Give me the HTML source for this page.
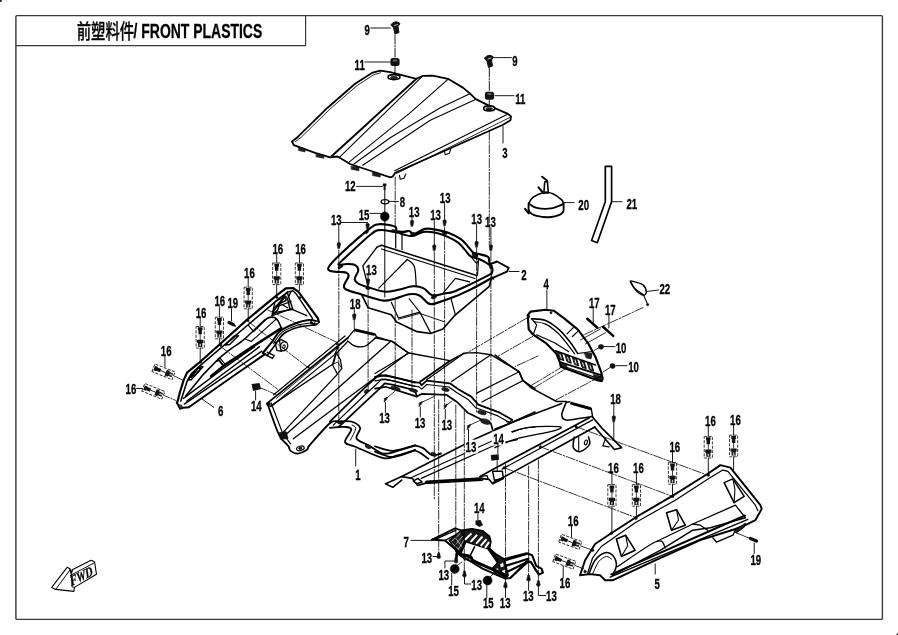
<!DOCTYPE html>
<html><head><meta charset="utf-8"><title>前塑料件/ FRONT PLASTICS</title>
<style>
html,body{margin:0;padding:0;background:#fff;}
body{width:898px;height:635px;overflow:hidden;}
svg{display:block;will-change:transform;}
svg text{stroke:#000;stroke-width:0.3px;font-family:"Liberation Sans","Noto Sans CJK SC",sans-serif;font-weight:bold;fill:#000;}
svg path{stroke-linejoin:round;stroke-linecap:round;}
</style></head><body>
<svg width="898" height="635" viewBox="0 0 898 635">
<rect x="15.9" y="15.6" width="866.5" height="603.8" rx="1" fill="none" stroke="#3a3a3a" stroke-width="1.4"/>
<path d="M16 45.6 H305.6 V15.7" fill="none" stroke="#3a3a3a" stroke-width="1.2"/>
<path d="M0 0 H2.2 Q2 2 0 2.2 Z" fill="#222"/><path d="M898 635 H896.6 V633.6 H898 Z" fill="#333"/>
<text x="76.7" y="38.6" font-size="20.5" textLength="57.5" lengthAdjust="spacingAndGlyphs" style="font-weight:500">前塑料件</text>
<text x="133.6" y="38.4" font-size="20.5" textLength="128.6" lengthAdjust="spacingAndGlyphs">/ FRONT PLASTICS</text>
<path d="M292.0 141.5 L297.5 137.2 L327.6 107.7 L355.1 83.8 L372.7 72.6 L380.2 70.6 L390.2 72.1 L416.5 78.8 L422.8 75.8 L432.8 75.6 L447.9 78.8 L462.9 87.6 L470.4 93.9 L475.4 98.9 L487.9 105.1 L508.0 113.9 L511.0 116.4 L510.5 120.2 L503.0 124.7 L450.4 148.2 L395.2 172.8 L392.7 176.6 L390.2 177.3 L372.7 171.5 L350.1 164.0 L343.9 160.3 L337.6 156.5 L330.1 157.3 L315.1 152.8 L293.8 145.2 Z" fill="none" stroke="#000" stroke-width="1.80"/>
<path d="M295.5 141.5 L301.3 137.2 L330.1 108.9 L357.1 85.6 L373.9 74.6 L380.7 72.8" fill="none" stroke="#000" stroke-width="0.84"/>
<path d="M416.5 78.8 L390.2 102.6 L360.2 130.2 L331.3 156.5" fill="none" stroke="#000" stroke-width="1.92"/>
<path d="M422.3 76.3 L338.9 157.8" fill="none" stroke="#000" stroke-width="1.08"/>
<path d="M447.9 79.3 L410.3 112.7 L348.1 162.8" fill="none" stroke="#000" stroke-width="1.08"/>
<path d="M470.4 93.4 L440.3 107.7 L390.2 137.7 L353.9 164.0" fill="none" stroke="#000" stroke-width="1.08"/>
<path d="M475.4 99.6 L430.3 120.2 L362.7 165.3" fill="none" stroke="#000" stroke-width="1.08"/>
<path d="M507.5 114.2 L394.7 170.8" fill="none" stroke="#000" stroke-width="1.08"/>
<path d="M510.5 117.2 L396.5 173.5" fill="none" stroke="#000" stroke-width="0.84"/>
<path d="M298.8 147.2 L305.0 148.7 L305.0 152.0 L298.8 150.5 Z" fill="#222" stroke="#000" stroke-width="0.60"/>
<path d="M316.3 153.5 L323.8 155.0 L323.8 158.3 L316.3 156.8 Z" fill="#222" stroke="#000" stroke-width="0.60"/>
<path d="M351.4 166.0 L358.9 167.5 L358.9 170.8 L351.4 169.3 Z" fill="#222" stroke="#000" stroke-width="0.60"/>
<path d="M372.7 172.3 L380.2 173.8 L380.2 177.1 L372.7 175.6 Z" fill="#222" stroke="#000" stroke-width="0.60"/>
<path d="M399.5 175.3 L400.2 179.3 L404.0 178.3 L405.8 174.0" fill="none" stroke="#000" stroke-width="1.08"/>
<path d="M444.1 150.2 L445.3 154.8 L449.4 153.3 L450.9 148.2" fill="none" stroke="#000" stroke-width="1.08"/>
<ellipse cx="394.0" cy="77.1" rx="6.0" ry="2.5" fill="#fff" stroke="#000" stroke-width="1.6"/>
<ellipse cx="394.0" cy="77.6" rx="3.5" ry="1.3" fill="#222" stroke="#000" stroke-width="0.5"/>
<ellipse cx="489.2" cy="108.4" rx="5.5" ry="2.5" fill="#fff" stroke="#000" stroke-width="1.6"/>
<ellipse cx="489.2" cy="108.9" rx="3.3" ry="1.3" fill="#222" stroke="#000" stroke-width="0.5"/>
<path d="M177.2 403.0 L180.0 392.0 L183.5 380.6 L187.0 372.6 L198.0 363.7 L219.0 345.0 L246.6 320.1 L276.9 295.1 L285.8 288.3 L292.9 288.0 L298.3 291.6 L317.9 318.3 L318.8 321.9 L316.0 324.5 L311.0 323.0" fill="none" stroke="#000" stroke-width="2.17"/>
<path d="M180.8 401.0 L187.0 381.5 L191.5 373.5 L200.4 365.4 L248.4 324.5 L279.0 298.7 L287.6 292.1" fill="none" stroke="#000" stroke-width="1.59"/>
<path d="M287.6 292.1 L292.9 290.7 L296.5 294.3 L312.5 318.3 L310.8 321.9" fill="none" stroke="#000" stroke-width="1.45"/>
<path d="M286.7 292.5 L272.4 313.0 L292.9 309.4 L287.6 293.4" fill="none" stroke="#000" stroke-width="1.45"/>
<path d="M272.4 313.0 L275.1 301.4 L284.0 296.9" fill="none" stroke="#000" stroke-width="1.16"/>
<path d="M276.9 306.7 L291.2 301.4" fill="none" stroke="#000" stroke-width="1.16"/>
<path d="M218.1 359.3 C219.9 357.8 224.3 353.8 228.8 350.4 C233.3 347.0 239.2 343.5 244.8 338.8 C250.5 334.0 258.5 325.4 262.7 321.9 C266.8 318.3 267.5 317.9 269.8 317.4 C272.1 316.9 274.6 317.1 276.5 318.8 C278.5 320.6 280.6 326.3 281.4 327.8" fill="none" stroke="#000" stroke-width="1.59"/>
<path d="M218.1 359.3 L223.5 365.9" fill="none" stroke="#000" stroke-width="1.45"/>
<path d="M220.2 358.4 L225.6 364.8" fill="none" stroke="#000" stroke-width="1.16"/>
<path d="M281.4 328.1 L253.7 345.9 L223.5 365.9 L211.0 376.2" fill="none" stroke="#000" stroke-width="2.46"/>
<path d="M248.4 325.4 L253.7 331.7 L267.1 318.3" fill="none" stroke="#000" stroke-width="1.16"/>
<path d="M244.8 338.8 L251.1 341.5 L266.2 328.1 L276.5 318.8" fill="none" stroke="#000" stroke-width="1.16"/>
<path d="M185.7 396.0 L203.6 374.1 L218.1 359.3" fill="none" stroke="#000" stroke-width="1.59"/>
<path d="M186.8 401.0 L259.5 346.7" fill="none" stroke="#000" stroke-width="1.45"/>
<path d="M286.0 296.5 L274.2 307.7 L272.0 315.6 L277.6 310.0 L279.8 303.3 L286.0 300.5 Z" fill="none" stroke="#000" stroke-width="1.45"/>
<path d="M279.8 303.3 L287.6 307.7" fill="none" stroke="#000" stroke-width="1.30"/>
<path d="M272.0 315.6 L291.0 308.8 L306.7 315.6" fill="none" stroke="#000" stroke-width="1.45"/>
<path d="M291.0 291.5 L287.6 298.8 L289.9 308.8" fill="none" stroke="#000" stroke-width="1.45"/>
<path d="M188.5 379.7 L195.7 369.7 L201.9 366.3 L199.1 370.8 L191.3 379.7 Z" fill="none" stroke="#000" stroke-width="1.45"/>
<path d="M191.3 377.5 L197.4 369.7" fill="none" stroke="#000" stroke-width="1.30"/>
<path d="M216.4 361.3 L219.2 360.2 L223.7 366.3 L221.5 367.4" fill="none" stroke="#000" stroke-width="1.59"/>
<path d="M188.8 407.3 L236.9 373.5 L265.4 353.9" fill="none" stroke="#000" stroke-width="1.89"/>
<path d="M184.3 404.1 L261.8 351.2" fill="none" stroke="#000" stroke-width="1.45"/>
<path d="M183.5 398.4 L222.7 369.0 L254.7 346.7" fill="none" stroke="#000" stroke-width="1.45"/>
<path d="M176.7 402.3 L179.9 408.6 L183.1 407.7 L188.8 407.3" fill="none" stroke="#000" stroke-width="1.89"/>
<path d="M178.5 405.2 L179.9 409.1 L182.6 408.6 L181.7 405.5 Z" fill="#333" stroke="#000" stroke-width="0.87"/>
<path d="M318.8 321.9 C317.1 321.6 313.0 319.8 309.0 320.1 C305.0 320.4 299.5 321.9 294.7 323.7 C290.0 325.4 284.3 327.7 280.5 330.8 C276.6 333.9 274.5 338.6 271.6 342.4 C268.6 346.1 264.1 351.3 262.7 353.1" fill="none" stroke="#000" stroke-width="2.03"/>
<path d="M315.2 324.9 C312.4 325.3 303.5 325.8 298.3 327.2 C293.1 328.6 287.9 330.5 284.0 333.5 C280.2 336.4 277.9 341.3 275.1 345.0 C272.3 348.7 268.4 353.9 267.1 355.7" fill="none" stroke="#000" stroke-width="1.59"/>
<path d="M312.5 322.4 C309.9 322.9 301.6 323.8 296.5 325.4 C291.5 327.1 286.1 329.1 282.2 332.2 C278.4 335.3 274.8 341.9 273.3 343.8" fill="none" stroke="#000" stroke-width="1.01"/>
<path d="M262.7 353.1 L272.4 358.4 L274.2 355.7 L267.1 352.2" fill="none" stroke="#000" stroke-width="1.45"/>
<path d="M275.1 342.4 L276.9 350.4 L281.4 351.3 L279.6 341.5" fill="none" stroke="#000" stroke-width="1.30"/>
<ellipse cx="284.0" cy="346.3" rx="3.6" ry="4.6" fill="#fff" stroke="#000" stroke-width="1.3" transform="rotate(20 284.0 346.3)"/>
<ellipse cx="284.0" cy="346.6" rx="1.2" ry="1.8" fill="#fff" stroke="#000" stroke-width="1.0" transform="rotate(20 284.0 346.6)"/>
<path d="M276.9 341.5 L281.4 339.7 L285.8 342.0" fill="none" stroke="#000" stroke-width="1.30"/>
<ellipse cx="316.5" cy="322.4" rx="1.8" ry="1.2" fill="#fff" stroke="#000" stroke-width="0.9"/>
<path d="M225.2 345.0 L234.1 336.1 L238.6 335.6 L229.7 344.5 Z" fill="none" stroke="#000" stroke-width="1.45"/>
<path d="M191.4 375.3 L199.4 366.9 L203.0 366.8 L194.9 375.5 Z" fill="none" stroke="#000" stroke-width="1.45"/>
<path d="M230.2 340.6 L234.5 336.7" fill="none" stroke="#000" stroke-width="1.45"/>
<path d="M194.1 371.8 L198.5 367.3" fill="none" stroke="#000" stroke-width="1.45"/>
<ellipse cx="276.9" cy="297.5" rx="1.2" ry="0.9" fill="#111" stroke="#000" stroke-width="0.5"/>
<ellipse cx="248.0" cy="320.6" rx="1.2" ry="0.9" fill="#111" stroke="#000" stroke-width="0.5"/>
<ellipse cx="220.8" cy="345.0" rx="1.2" ry="0.9" fill="#111" stroke="#000" stroke-width="0.5"/>
<ellipse cx="200.6" cy="362.3" rx="1.2" ry="0.9" fill="#111" stroke="#000" stroke-width="0.5"/>
<ellipse cx="300.1" cy="297.5" rx="1.1" ry="0.7" fill="#111" stroke="#000" stroke-width="0.5" transform="rotate(40 300.1 297.5)"/>
<text transform="translate(272.5 254.0) scale(0.63 1)" font-size="15.3">16</text>
<path d="M276.7 254.5 L276.7 263.0" fill="none" stroke="#000" stroke-width="0.9"/>
<g><rect x="272.6" y="263.0" width="8.2" height="21.6" fill="none" stroke="#222" stroke-width="0.9" stroke-dasharray="3 1.4"/><path d="M274.4 263.8 h4.6 v3 h-0.6 v4 h-3.4 v-4 h-0.6 Z" fill="#111"/><path d="M276.7 271.0 v5" stroke="#111" stroke-width="0.8"/><path d="M273.6 276.2 h6.2 v3.2 h-1 v4 h-4.2 v-4 h-1 Z" fill="#111"/><rect x="276.0" y="280.3" width="1.4" height="2.6" fill="#bbb"/></g>
<path d="M276.7 284.6 L276.7 296.0" fill="none" stroke="#000" stroke-width="0.9"/>
<text transform="translate(295.2 254.0) scale(0.63 1)" font-size="15.3">16</text>
<path d="M299.4 254.5 L299.4 263.0" fill="none" stroke="#000" stroke-width="0.9"/>
<g><rect x="295.3" y="263.0" width="8.2" height="21.6" fill="none" stroke="#222" stroke-width="0.9" stroke-dasharray="3 1.4"/><path d="M297.1 263.8 h4.6 v3 h-0.6 v4 h-3.4 v-4 h-0.6 Z" fill="#111"/><path d="M299.4 271.0 v5" stroke="#111" stroke-width="0.8"/><path d="M296.3 276.2 h6.2 v3.2 h-1 v4 h-4.2 v-4 h-1 Z" fill="#111"/><rect x="298.7" y="280.3" width="1.4" height="2.6" fill="#bbb"/></g>
<path d="M299.4 284.6 L299.4 290.5" fill="none" stroke="#000" stroke-width="0.9"/>
<text transform="translate(244.1 277.7) scale(0.63 1)" font-size="15.3">16</text>
<path d="M248.2 278.2 L248.2 287.2" fill="none" stroke="#000" stroke-width="0.9"/>
<g><rect x="244.1" y="287.2" width="8.2" height="21.6" fill="none" stroke="#222" stroke-width="0.9" stroke-dasharray="3 1.4"/><path d="M245.9 288.0 h4.6 v3 h-0.6 v4 h-3.4 v-4 h-0.6 Z" fill="#111"/><path d="M248.2 295.2 v5" stroke="#111" stroke-width="0.8"/><path d="M245.1 300.4 h6.2 v3.2 h-1 v4 h-4.2 v-4 h-1 Z" fill="#111"/><rect x="247.5" y="304.5" width="1.4" height="2.6" fill="#bbb"/></g>
<path d="M248.2 308.8 L248.2 320.0" fill="none" stroke="#000" stroke-width="0.9"/>
<text transform="translate(214.5 306.4) scale(0.63 1)" font-size="15.3">16</text>
<path d="M219.4 306.9 L219.4 317.2" fill="none" stroke="#000" stroke-width="0.9"/>
<g><rect x="215.3" y="317.2" width="8.2" height="21.6" fill="none" stroke="#222" stroke-width="0.9" stroke-dasharray="3 1.4"/><path d="M217.1 318.0 h4.6 v3 h-0.6 v4 h-3.4 v-4 h-0.6 Z" fill="#111"/><path d="M219.4 325.2 v5" stroke="#111" stroke-width="0.8"/><path d="M216.3 330.4 h6.2 v3.2 h-1 v4 h-4.2 v-4 h-1 Z" fill="#111"/><rect x="218.7" y="334.5" width="1.4" height="2.6" fill="#bbb"/></g>
<path d="M219.4 338.8 L219.4 345.5" fill="none" stroke="#000" stroke-width="0.9"/>
<text transform="translate(195.7 317.7) scale(0.63 1)" font-size="15.3">16</text>
<path d="M200.2 318.2 L200.2 326.5" fill="none" stroke="#000" stroke-width="0.9"/>
<g><rect x="196.1" y="326.5" width="8.2" height="21.6" fill="none" stroke="#222" stroke-width="0.9" stroke-dasharray="3 1.4"/><path d="M197.9 327.3 h4.6 v3 h-0.6 v4 h-3.4 v-4 h-0.6 Z" fill="#111"/><path d="M200.2 334.5 v5" stroke="#111" stroke-width="0.8"/><path d="M197.1 339.7 h6.2 v3.2 h-1 v4 h-4.2 v-4 h-1 Z" fill="#111"/><rect x="199.5" y="343.8" width="1.4" height="2.6" fill="#bbb"/></g>
<path d="M200.2 348.1 L200.2 361.5" fill="none" stroke="#000" stroke-width="0.9"/>
<text transform="translate(227.5 308.2) scale(0.63 1)" font-size="15.3">19</text>
<path d="M231.5 308.7 L231.5 321.0" fill="none" stroke="#000" stroke-width="0.9"/>
<path d="M229 322.5 l4.5 2.2" stroke="#111" stroke-width="3.2" stroke-linecap="round"/><path d="M233 324.8 l2.3 1.2" stroke="#111" stroke-width="1.6"/>
<text transform="translate(160.8 356.0) scale(0.63 1)" font-size="15.3">16</text>
<path d="M164.9 356.5 L164.9 367.0" fill="none" stroke="#000" stroke-width="0.9"/>
<g transform="rotate(-68 163.5 371.8)"><rect x="159.4" y="361.0" width="8.2" height="21.6" fill="none" stroke="#222" stroke-width="0.9" stroke-dasharray="3 1.4"/><path d="M161.2 361.8 h4.6 v3 h-0.6 v4 h-3.4 v-4 h-0.6 Z" fill="#111"/><path d="M163.5 369.0 v5" stroke="#111" stroke-width="0.8"/><path d="M160.4 374.2 h6.2 v3.2 h-1 v4 h-4.2 v-4 h-1 Z" fill="#111"/><rect x="162.8" y="378.3" width="1.4" height="2.6" fill="#bbb"/></g>
<path d="M174.0 376.0 L183.5 380.5" fill="none" stroke="#000" stroke-width="0.8"/>
<text transform="translate(125.6 394.3) scale(0.63 1)" font-size="15.3">16</text>
<path d="M136.5 388.5 L142.0 388.5" fill="none" stroke="#000" stroke-width="0.9"/>
<g transform="rotate(-68 153.3 391.3)"><rect x="149.2" y="380.5" width="8.2" height="21.6" fill="none" stroke="#222" stroke-width="0.9" stroke-dasharray="3 1.4"/><path d="M151.0 381.3 h4.6 v3 h-0.6 v4 h-3.4 v-4 h-0.6 Z" fill="#111"/><path d="M153.3 388.5 v5" stroke="#111" stroke-width="0.8"/><path d="M150.2 393.7 h6.2 v3.2 h-1 v4 h-4.2 v-4 h-1 Z" fill="#111"/><rect x="152.6" y="397.8" width="1.4" height="2.6" fill="#bbb"/></g>
<path d="M164.0 395.5 L176.0 400.5" fill="none" stroke="#000" stroke-width="0.8" stroke-dasharray="6 1.5 1.5 1.5"/>
<text transform="translate(218.0 416.3) scale(0.63 1)" font-size="15.3">6</text>
<path d="M201.3 398.4 L213.7 407.3" fill="none" stroke="#000" stroke-width="0.9"/>
<text transform="translate(251.0 411.0) scale(0.63 1)" font-size="15.3">14</text>
<path d="M255.6 391.0 L255.6 400.0" fill="none" stroke="#000" stroke-width="0.9"/>
<path d="M251.5 384 l8 -1 l1.6 6 l-8 2 Z" fill="#111"/>
<path d="M261.0 388.0 L276.0 394.5" fill="none" stroke="#000" stroke-width="0.8" stroke-dasharray="6 1.5 1.5 1.5"/>
<path d="M361.9 295.2 L368.1 307.7 L391.3 314.8 L396.6 321.9 L417.1 331.7 L430.5 333.5 L442.9 329.0 L455.4 314.8 L489.3 286.3 L491.4 278.4" fill="none" stroke="#000" stroke-width="1.68"/>
<path d="M391.3 302.3 L398.4 318.0 L419.8 312.1 L430.5 332.6" fill="none" stroke="#000" stroke-width="1.20"/>
<path d="M419.8 312.1 L409.1 298.7" fill="none" stroke="#000" stroke-width="1.08"/>
<path d="M451.0 298.7 L455.4 314.8" fill="none" stroke="#000" stroke-width="1.20"/>
<path d="M398.4 319.2 L419.8 313.4 L444.7 321.9" fill="none" stroke="#000" stroke-width="0.96"/>
<path d="M328.9 266.7 C330.7 263.7 334.6 259.7 341.4 253.3 C348.2 246.9 363.7 233.2 369.9 228.4 C376.1 223.5 375.8 224.9 378.8 224.3 C381.8 223.7 384.9 224.3 387.7 224.8 C390.5 225.3 394.2 226.1 395.7 227.1 C397.2 228.2 395.3 230.2 396.6 231.0 C398.0 231.8 401.7 231.9 403.7 231.9 C405.8 231.9 407.3 230.7 409.1 231.0 C410.9 231.3 411.8 234.1 414.4 233.7 C417.1 233.4 421.6 229.6 425.1 228.9 C428.7 228.2 432.0 229.0 435.8 229.6 C439.7 230.3 444.1 231.2 448.3 232.8 C452.4 234.4 457.5 237.0 460.8 239.2 C464.0 241.5 465.8 244.1 467.9 246.4 C470.0 248.6 471.2 251.3 473.2 252.6 C475.3 253.9 477.9 253.6 480.4 254.4 C482.9 255.1 486.7 255.8 488.2 257.0 C489.7 258.3 488.5 258.3 489.3 261.7 C490.0 265.1 492.4 274.7 492.7 277.5 C492.9 280.3 494.4 276.5 490.9 278.4 C487.3 280.4 477.5 286.0 471.3 289.1 C465.0 292.2 459.4 294.8 453.5 297.1 C447.5 299.5 439.5 302.2 435.6 303.4 C431.8 304.5 431.9 304.3 430.5 304.1 C429.0 303.9 428.8 303.8 426.9 302.3 C425.0 300.8 421.9 296.5 418.9 295.2 C415.9 293.8 413.1 293.7 409.1 294.3 C405.1 294.9 399.3 297.7 394.8 298.7 C390.4 299.8 388.0 301.3 382.4 300.5 C376.7 299.8 366.9 296.1 361.0 294.3 C355.0 292.5 349.5 291.3 346.7 289.8 C343.9 288.3 343.8 287.6 344.1 285.4 C344.4 283.2 348.1 278.5 348.5 276.5 C349.0 274.4 348.1 273.6 346.7 272.9 C345.4 272.2 343.2 272.3 340.5 272.0 C337.8 271.7 332.6 272.0 330.7 271.1 C328.8 270.2 327.1 269.6 328.9 266.7 Z" fill="#fff" stroke="#000" stroke-width="2.16"/>
<path d="M489.1 264.6 L497.1 261.5 L508.7 267.8 L506.9 271.7 L492.7 277.9" fill="#fff" stroke="#000" stroke-width="1.92"/>
<path d="M338.7 264.9 C338.1 264.1 337.7 264.7 343.2 259.5 C348.7 254.3 365.4 238.6 371.7 233.7 C377.9 228.8 377.3 230.5 380.6 230.1 C383.8 229.8 388.3 230.9 391.3 231.4 C394.2 231.8 396.3 232.3 398.4 232.8 C400.5 233.4 401.4 234.1 403.7 234.6 C406.1 235.1 409.4 236.5 412.7 236.0 C415.9 235.6 419.5 232.5 423.3 231.9 C427.2 231.4 431.8 232.0 435.8 232.8 C439.8 233.6 443.5 235.0 447.2 236.6 C450.9 238.2 454.9 240.2 457.9 242.4 C460.9 244.7 463.0 247.6 465.0 249.9 C467.1 252.2 468.2 254.7 470.4 256.2 C472.6 257.6 475.6 257.6 478.4 258.8 C481.2 260.0 485.0 261.8 487.3 263.3 C489.6 264.8 491.4 266.1 492.1 267.7 C492.9 269.4 492.3 271.9 491.8 273.1 C491.3 274.3 492.5 273.1 489.1 274.9 C485.7 276.6 477.2 281.0 471.3 283.8 C465.3 286.6 457.9 290.2 453.5 291.8 C449.0 293.4 448.3 292.8 444.7 293.4 C441.2 294.0 435.8 296.1 432.2 295.2 C428.7 294.3 426.6 289.5 423.3 288.1 C420.1 286.6 416.8 286.0 412.7 286.3 C408.5 286.6 403.1 288.9 398.4 289.8 C393.6 290.7 389.2 292.1 384.1 291.6 C379.1 291.2 372.4 288.5 368.1 287.2 C363.8 285.8 360.5 284.9 358.3 283.6 C356.1 282.3 354.7 281.4 354.7 279.1 C354.7 276.9 358.3 272.6 358.3 270.2 C358.3 267.9 356.7 265.9 354.7 264.9 C352.8 263.8 349.4 264.0 346.7 264.0 C344.1 264.0 339.3 265.6 338.7 264.9 Z" fill="#fff" stroke="#000" stroke-width="2.04"/>
<path d="M377.0 247.1 L381.5 245.3 L476.8 275.6" fill="none" stroke="#000" stroke-width="1.56"/>
<path d="M381.5 248.9 L475.0 278.6" fill="none" stroke="#000" stroke-width="1.08"/>
<path d="M377.0 247.1 L362.8 265.8 L368.1 286.3" fill="none" stroke="#000" stroke-width="1.32"/>
<path d="M407.3 259.5 C408.5 260.7 412.9 262.2 414.4 266.7 C415.9 271.1 415.9 283.0 416.2 286.3" fill="none" stroke="#000" stroke-width="1.20"/>
<path d="M407.3 259.5 L378.8 288.1" fill="none" stroke="#000" stroke-width="1.20"/>
<path d="M395.7 232.8 L395.7 248.0" fill="none" stroke="#000" stroke-width="1.20"/>
<path d="M402.0 233.7 L402.0 249.7" fill="none" stroke="#000" stroke-width="1.20"/>
<path d="M442.9 293.4 L455.4 278.3 L469.7 281.8" fill="none" stroke="#000" stroke-width="1.20"/>
<path d="M478.4 260.6 L477.5 275.2" fill="none" stroke="#000" stroke-width="1.20"/>
<path d="M470.4 256.2 L476.6 263.3 L478.4 260.6" fill="none" stroke="#000" stroke-width="1.08"/>
<ellipse cx="340.5" cy="266.7" rx="2.9" ry="1.4" fill="#111" stroke="#000" stroke-width="0.5" transform="rotate(-30 340.5 266.7)"/>
<ellipse cx="368.1" cy="288.1" rx="2.5" ry="1.4" fill="#111" stroke="#000" stroke-width="0.5"/>
<ellipse cx="434.0" cy="297.0" rx="2.9" ry="1.6" fill="#111" stroke="#000" stroke-width="0.5" transform="rotate(-20 434.0 297.0)"/>
<ellipse cx="475.0" cy="255.1" rx="3.2" ry="1.8" fill="#111" stroke="#000" stroke-width="0.5" transform="rotate(25 475.0 255.1)"/>
<ellipse cx="412.7" cy="233.7" rx="2.5" ry="1.2" fill="#111" stroke="#000" stroke-width="0.5"/>
<ellipse cx="444.7" cy="233.2" rx="2.5" ry="1.2" fill="#111" stroke="#000" stroke-width="0.5" transform="rotate(15 444.7 233.2)"/>
<ellipse cx="491.0" cy="266.7" rx="1.6" ry="2.1" fill="#111" stroke="#000" stroke-width="0.5"/>
<ellipse cx="366.7" cy="231.9" rx="1.4" ry="2.1" fill="#111" stroke="#000" stroke-width="0.5" transform="rotate(40 366.7 231.9)"/>
<ellipse cx="393.1" cy="230.7" rx="2.1" ry="1.1" fill="#111" stroke="#000" stroke-width="0.5"/>
<text transform="translate(521.3 279.5) scale(0.63 1)" font-size="15.3">2</text>
<path d="M509.0 271.5 L519.0 271.5" fill="none" stroke="#000" stroke-width="0.9"/>
<text transform="translate(364.6 34.8) scale(0.63 1)" font-size="15.3">9</text>
<path d="M370.8 28.0 L390.4 28.0" fill="none" stroke="#000" stroke-width="0.9"/>
<g transform="translate(395.5 27.5)"><path d="M-4.5 -3 q4.5 -5 9 -1 l-2 3 l1 6 l-4 1.5 l-1.5 -6 Z" fill="#111" stroke="#111" stroke-width="1"/><path d="M-1 -2 l3 -1" stroke="#fff" stroke-width="0.7"/></g>
<path d="M395.0 35.0 L395.0 57.0" fill="none" stroke="#000" stroke-width="0.9" stroke-dasharray="9 1.5 1.5 1.5"/>
<text transform="translate(354.6 70.4) scale(0.63 1)" font-size="15.3">11</text>
<path d="M365.0 62.0 L390.0 62.0" fill="none" stroke="#000" stroke-width="0.9"/>
<g transform="translate(395.0 62.0)"><rect x="-4.6" y="-4" width="9.2" height="8" rx="2.5" fill="#111"/><ellipse cx="0" cy="-1.6" rx="2.4" ry="1" fill="#666"/></g>
<path d="M395.0 66.0 L395.0 74.0" fill="none" stroke="#000" stroke-width="0.9"/>
<text transform="translate(512.3 65.8) scale(0.63 1)" font-size="15.3">9</text>
<path d="M493.0 57.6 L511.4 57.6" fill="none" stroke="#000" stroke-width="0.9"/>
<g transform="translate(489.0 61.0)"><path d="M-4.5 -3 q4.5 -5 9 -1 l-2 3 l1 6 l-4 1.5 l-1.5 -6 Z" fill="#111" stroke="#111" stroke-width="1"/><path d="M-1 -2 l3 -1" stroke="#fff" stroke-width="0.7"/></g>
<path d="M489.3 68.0 L489.3 92.0" fill="none" stroke="#000" stroke-width="0.9" stroke-dasharray="9 1.5 1.5 1.5"/>
<text transform="translate(515.2 103.6) scale(0.63 1)" font-size="15.3">11</text>
<path d="M495.0 95.7 L514.0 95.7" fill="none" stroke="#000" stroke-width="0.9"/>
<g transform="translate(489.5 95.7)"><rect x="-4.6" y="-4" width="9.2" height="8" rx="2.5" fill="#111"/><ellipse cx="0" cy="-1.6" rx="2.4" ry="1" fill="#666"/></g>
<path d="M489.3 100.0 L489.3 106.0" fill="none" stroke="#000" stroke-width="0.9"/>
<text transform="translate(502.3 158.2) scale(0.63 1)" font-size="15.3">3</text>
<path d="M503.0 126.5 L503.0 143.0" fill="none" stroke="#000" stroke-width="0.9"/>
<text transform="translate(344.9 190.8) scale(0.63 1)" font-size="15.3">12</text>
<path d="M356.5 186.4 L382.4 186.4" fill="none" stroke="#000" stroke-width="0.9"/>
<path d="M382.8 183.4 h3.6 v2.6 h-0.8 v4 h-2 v-4 h-0.8 Z" fill="#111"/>
<text transform="translate(399.8 207.2) scale(0.63 1)" font-size="15.3">8</text>
<path d="M389.0 201.4 L398.4 201.4" fill="none" stroke="#000" stroke-width="0.9"/>
<ellipse cx="385.0" cy="201.8" rx="3.8" ry="2.1" fill="#fff" stroke="#000" stroke-width="1.3"/>
<text transform="translate(358.7 220.2) scale(0.63 1)" font-size="15.3">15</text>
<path d="M369.8 213.4 L381.0 213.4" fill="none" stroke="#000" stroke-width="0.9"/>
<ellipse cx="384.8" cy="216.6" rx="4.4" ry="4.6" fill="#000" stroke="#000" stroke-width="0.5"/>
<path d="M384.8 190.0 L384.8 297.0" fill="none" stroke="#000" stroke-width="1.0"/>
<path d="M273.7 394.8 L345.0 336.0" fill="none" stroke="#000" stroke-width="1.20"/>
<path d="M267.1 403.4 L348.0 337.8" fill="none" stroke="#000" stroke-width="1.80"/>
<path d="M270.1 406.4 L333.4 363.7 L336.1 353.9 L347.7 341.4" fill="none" stroke="#000" stroke-width="1.32"/>
<path d="M276.4 398.4 L338.7 346.7" fill="none" stroke="#000" stroke-width="0.84"/>
<ellipse cx="268.4" cy="404.1" rx="2.0" ry="2.0" fill="#111" stroke="#000" stroke-width="0.5"/>
<ellipse cx="308.5" cy="367.2" rx="0.9" ry="0.9" fill="#111" stroke="#000" stroke-width="0.5"/>
<ellipse cx="337.0" cy="344.1" rx="0.9" ry="0.9" fill="#111" stroke="#000" stroke-width="0.5"/>
<path d="M267.5 403.7 C269.4 408.9 275.6 427.9 279.1 434.9 C282.5 441.9 286.0 442.9 288.0 445.6 C289.9 448.3 289.0 449.6 290.6 450.9 C292.3 452.3 295.1 453.7 297.8 453.6 C300.4 453.4 304.9 451.2 306.7 450.0 C308.5 448.8 308.2 447.1 308.5 446.5" fill="none" stroke="#000" stroke-width="1.80"/>
<path d="M271.0 402.8 L282.6 433.1 L290.6 443.8" fill="none" stroke="#000" stroke-width="1.20"/>
<path d="M279.1 432.8 L286.2 431.7 L288.0 438.5 L280.8 439.3 Z" fill="#111" stroke="#000" stroke-width="0.72"/>
<ellipse cx="300.4" cy="448.3" rx="3.9" ry="2.1" fill="#fff" stroke="#000" stroke-width="1.2" transform="rotate(-15 300.4 448.3)"/>
<ellipse cx="300.4" cy="448.3" rx="1.8" ry="1.1" fill="#111" stroke="#000" stroke-width="0.5" transform="rotate(-15 300.4 448.3)"/>
<path d="M347.7 337.8 L354.8 329.3 L375.3 334.3 L376.5 336.9" fill="none" stroke="#000" stroke-width="1.32"/>
<path d="M355.8 330.2 L374.0 334.3" fill="none" stroke="#000" stroke-width="2.76"/>
<path d="M347.7 341.0 C348.8 341.9 351.8 345.2 354.8 346.0 C357.7 346.8 361.8 347.5 365.5 346.0 C369.1 344.5 374.7 338.4 376.5 336.9" fill="none" stroke="#000" stroke-width="1.32"/>
<path d="M376.5 336.9 L392.2 341.4 L408.2 353.0" fill="none" stroke="#000" stroke-width="1.32"/>
<path d="M375.0 337.8 L391.9 341.4 L408.9 353.0 L449.8 360.6" fill="none" stroke="#000" stroke-width="1.32"/>
<path d="M449.8 361.0 L464.1 353.1 L476.6 352.6 L490.8 354.7 L519.3 371.7 L522.9 380.6 L535.0 388.6" fill="none" stroke="#000" stroke-width="1.44"/>
<path d="M336.0 352.4 L332.4 364.7 L337.5 374.1 L341.8 368.3 L340.4 359.6 Z" fill="none" stroke="#000" stroke-width="1.20"/>
<path d="M332.4 364.7 L337.5 362.0 L341.8 368.3" fill="none" stroke="#000" stroke-width="0.84"/>
<path d="M390.4 341.4 L286.5 434.0" fill="none" stroke="#000" stroke-width="1.32"/>
<path d="M408.2 353.0 L293.3 438.8" fill="none" stroke="#000" stroke-width="1.32"/>
<path d="M337.5 374.1 L288.2 426.9 L283.0 432.5" fill="none" stroke="#000" stroke-width="1.32"/>
<path d="M270.8 406.7 L334.6 354.6 L338.0 347.5" fill="none" stroke="#000" stroke-width="1.20"/>
<path d="M408.9 353.0 L375.0 373.5" fill="none" stroke="#000" stroke-width="1.20"/>
<path d="M449.8 361.0 L420.4 381.5" fill="none" stroke="#000" stroke-width="1.92"/>
<path d="M464.1 353.3 L426.7 379.7" fill="none" stroke="#000" stroke-width="1.20"/>
<path d="M490.8 354.7 L451.6 381.5" fill="none" stroke="#000" stroke-width="1.20"/>
<path d="M519.3 371.7 L476.6 393.1" fill="none" stroke="#000" stroke-width="1.20"/>
<path d="M522.9 380.6 L481.9 402.0" fill="none" stroke="#000" stroke-width="1.20"/>
<path d="M329.8 421.6 C337.0 414.7 363.7 388.2 372.6 380.6 C381.5 372.9 376.2 375.3 383.3 375.6 C390.4 375.9 409.7 381.2 415.0 382.4" fill="none" stroke="#000" stroke-width="1.80"/>
<path d="M333.4 425.1 C340.5 418.4 367.5 392.1 376.2 384.5 C384.8 376.9 378.6 379.4 385.1 379.7 C391.5 380.0 410.0 385.2 415.0 386.3" fill="none" stroke="#000" stroke-width="1.20"/>
<path d="M338.7 426.9 C345.6 420.5 371.6 395.8 379.7 388.6 C387.9 381.4 381.9 383.5 387.7 383.8 C393.6 384.1 410.5 389.3 415.0 390.4" fill="none" stroke="#000" stroke-width="1.80"/>
<path d="M414.9 382.4 L419.5 382.7 L421.7 385.2 L426.7 380.6 L449.8 383.3 L458.7 389.5 L471.2 396.6 L478.3 404.6 L499.7 412.7 L512.2 419.8" fill="none" stroke="#000" stroke-width="1.80"/>
<path d="M414.9 386.3 L418.7 386.6 L421.7 389.1 L426.7 384.5 L448.9 387.0 L457.0 392.7 L468.5 399.8 L475.7 407.7 L497.9 415.9 L509.5 422.4" fill="none" stroke="#000" stroke-width="1.20"/>
<path d="M414.9 390.4 L416.9 396.6 L421.7 393.9 L446.3 394.8 L457.0 402.0 L467.7 412.7 L481.9 419.8 L490.8 423.3 L492.6 429.6" fill="none" stroke="#000" stroke-width="1.68"/>
<path d="M375.0 377.0 L385.7 375.2 L414.9 382.4" fill="none" stroke="#000" stroke-width="1.80"/>
<path d="M375.0 380.9 L385.7 379.2 L414.9 386.3" fill="none" stroke="#000" stroke-width="1.20"/>
<path d="M375.0 388.6 L385.7 386.8 L416.9 396.6" fill="none" stroke="#000" stroke-width="1.68"/>
<path d="M512.2 419.8 L509.5 422.4 L506.8 421.6" fill="none" stroke="#000" stroke-width="1.44"/>
<ellipse cx="395.5" cy="388.6" rx="5.0" ry="1.8" fill="#222" stroke="#000" stroke-width="0.5" transform="rotate(15 395.5 388.6)"/>
<ellipse cx="413.3" cy="390.4" rx="4.5" ry="1.6" fill="#222" stroke="#000" stroke-width="0.5" transform="rotate(15 413.3 390.4)"/>
<ellipse cx="445.4" cy="389.5" rx="3.9" ry="1.8" fill="#222" stroke="#000" stroke-width="0.5" transform="rotate(15 445.4 389.5)"/>
<ellipse cx="481.9" cy="412.7" rx="4.5" ry="1.8" fill="#222" stroke="#000" stroke-width="0.5" transform="rotate(15 481.9 412.7)"/>
<ellipse cx="485.5" cy="421.6" rx="5.0" ry="2.5" fill="#222" stroke="#000" stroke-width="0.5" transform="rotate(15 485.5 421.6)"/>
<ellipse cx="366.4" cy="391.3" rx="2.5" ry="1.6" fill="#222" stroke="#000" stroke-width="0.5" transform="rotate(-40 366.4 391.3)"/>
<ellipse cx="340.5" cy="422.4" rx="3.2" ry="1.6" fill="#222" stroke="#000" stroke-width="0.5"/>
<path d="M308.5 446.5 C312.0 442.6 324.8 427.5 329.8 423.3 C334.9 419.1 335.2 421.8 338.7 421.5 C342.3 421.2 347.7 420.5 351.2 421.5 C354.8 422.6 359.2 424.9 360.1 427.8 C361.0 430.6 355.1 435.5 356.6 438.5 C358.0 441.4 364.6 443.1 369.0 445.6 C373.5 448.1 378.5 452.7 383.3 453.6 C388.0 454.5 392.3 452.3 397.5 450.9 C402.8 449.6 412.1 446.5 415.0 445.6" fill="none" stroke="#000" stroke-width="1.80"/>
<path d="M329.8 427.8 C332.2 427.6 340.5 426.6 344.1 426.9 C347.7 427.2 351.1 427.0 351.2 429.5 C351.4 432.1 344.4 439.2 345.0 442.0 C345.6 444.8 348.4 443.8 354.8 446.5 C361.2 449.1 376.2 456.6 383.3 458.1 C390.4 459.5 392.3 456.7 397.5 455.4 C402.8 454.0 412.1 450.9 415.0 450.0" fill="none" stroke="#000" stroke-width="1.80"/>
<path d="M352.1 425.1 C352.7 425.7 356.0 426.1 355.7 428.7 C355.4 431.2 351.2 438.3 350.3 440.2" fill="none" stroke="#000" stroke-width="0.96"/>
<path d="M414.9 445.4 C416.3 445.9 420.3 446.5 423.1 448.1 C426.0 449.7 429.0 454.3 432.0 455.2 C435.0 456.1 439.4 453.7 440.9 453.5" fill="none" stroke="#000" stroke-width="1.80"/>
<path d="M414.9 450.4 C415.7 450.8 417.3 451.2 419.5 452.6 C421.8 454.0 427.0 457.8 428.5 458.8" fill="none" stroke="#000" stroke-width="1.80"/>
<path d="M375.0 446.3 C378.0 447.1 386.2 450.9 392.8 450.8 C399.5 450.6 411.2 446.3 414.9 445.4" fill="none" stroke="#000" stroke-width="1.80"/>
<path d="M375.0 451.7 C378.0 452.6 386.2 457.2 392.8 457.0 C399.5 456.8 411.2 451.5 414.9 450.4" fill="none" stroke="#000" stroke-width="1.80"/>
<ellipse cx="368.1" cy="446.5" rx="3.2" ry="1.8" fill="#222" stroke="#000" stroke-width="0.5" transform="rotate(25 368.1 446.5)"/>
<ellipse cx="433.8" cy="454.3" rx="3.2" ry="1.6" fill="#222" stroke="#000" stroke-width="0.5" transform="rotate(25 433.8 454.3)"/>
<path d="M535.0 412.1 L476.6 438.3 L401.7 476.6" fill="none" stroke="#000" stroke-width="1.68"/>
<path d="M517.5 439.6 L497.9 443.7 L421.3 478.4" fill="none" stroke="#000" stroke-width="1.20"/>
<path d="M411.5 477.5 L491.5 441.2 L499.7 437.8" fill="none" stroke="#000" stroke-width="1.20"/>
<path d="M512.2 432.1 C514.0 431.5 519.1 429.3 522.9 428.5 C526.7 427.7 533.0 427.3 535.0 427.1" fill="none" stroke="#000" stroke-width="1.20"/>
<path d="M385.7 483.7 L401.7 476.6 L412.4 478.4 L417.8 485.5 L426.7 482.9 L480.1 478.4 L489.0 479.3 L492.6 483.7 L503.3 478.4" fill="none" stroke="#000" stroke-width="1.68"/>
<path d="M426.7 482.3 L481.9 479.1" fill="none" stroke="#000" stroke-width="3.60"/>
<path d="M386.0 484.1 L392.8 487.3 L401.7 480.2" fill="none" stroke="#000" stroke-width="1.56"/>
<path d="M413.3 481.1 L416.9 483.7 L422.2 482.0 L417.8 478.4 Z" fill="#fff" stroke="#000" stroke-width="1.44"/>
<path d="M492.6 471.3 L502.4 471.3 L503.3 478.4 L494.4 480.2 Z" fill="#fff" stroke="#000" stroke-width="1.44"/>
<path d="M480.1 476.3 L487.2 475.7 L488.1 479.3" fill="none" stroke="#000" stroke-width="1.20"/>
<path d="M495.1 355.1 L519.1 372.1 L522.7 380.1 L531.6 388.1 L556.6 401.5 L566.4 401.5" fill="none" stroke="#000" stroke-width="1.44"/>
<path d="M566.3 402.3 C565.5 404.4 561.8 411.8 561.8 414.7 C561.8 417.7 563.2 419.5 566.3 420.1 C569.4 420.7 576.2 418.9 580.5 418.3 C584.8 417.7 590.2 416.8 592.1 416.5" fill="none" stroke="#000" stroke-width="1.56"/>
<path d="M566.3 402.3 L569.8 401.7" fill="none" stroke="#000" stroke-width="1.44"/>
<path d="M571.6 403.3 L590.1 408.5" fill="none" stroke="#000" stroke-width="2.88"/>
<path d="M591.2 408.5 L592.6 416.5" fill="none" stroke="#000" stroke-width="1.44"/>
<path d="M561.8 403.5 L495.0 429.0" fill="none" stroke="#000" stroke-width="1.44"/>
<path d="M589.4 417.8 L496.8 467.3 L480.1 476.6" fill="none" stroke="#000" stroke-width="1.68"/>
<path d="M592.6 419.9 L502.1 469.1" fill="none" stroke="#000" stroke-width="1.20"/>
<path d="M594.8 427.0 L503.9 477.1 L492.6 482.9" fill="none" stroke="#000" stroke-width="1.68"/>
<path d="M592.1 416.5 L601.9 428.1 L621.5 447.7 L614.4 449.5 L594.8 427.2" fill="none" stroke="#000" stroke-width="1.68"/>
<path d="M605.5 438.8 L602.8 445.9 L609.0 446.8" fill="none" stroke="#000" stroke-width="1.20"/>
<path d="M574.3 437.0 C574.1 438.8 572.4 445.3 573.4 447.7 C574.4 450.1 577.9 452.2 580.5 451.6 C583.2 451.1 588.1 446.9 589.4 444.5 C590.8 442.1 588.7 438.3 588.5 437.0" fill="none" stroke="#000" stroke-width="1.56"/>
<path d="M578.7 437.0 L578.7 450.4" fill="none" stroke="#000" stroke-width="1.08"/>
<ellipse cx="585.9" cy="442.4" rx="1.4" ry="2.5" fill="#fff" stroke="#000" stroke-width="1.1" transform="rotate(15 585.9 442.4)"/>
<path d="M511.9 431.7 C515.0 430.9 522.8 428.0 530.6 427.2 C538.5 426.4 555.3 426.1 559.1 426.7 C563.0 427.3 560.9 428.8 553.8 430.8 C546.7 432.8 526.2 436.0 516.4 438.8 C506.6 441.6 498.6 446.2 495.0 447.7" fill="none" stroke="#000" stroke-width="1.32"/>
<ellipse cx="576.1" cy="426.7" rx="1.2" ry="1.2" fill="#111" stroke="#000" stroke-width="0.5"/>
<ellipse cx="540.4" cy="446.8" rx="1.2" ry="1.2" fill="#111" stroke="#000" stroke-width="0.5"/>
<ellipse cx="504.3" cy="467.7" rx="1.2" ry="1.2" fill="#111" stroke="#000" stroke-width="0.5"/>
<path d="M527.8 315.1 L530.5 311.6 L545.6 309.8 L553.7 310.7 L563.5 317.8 L577.7 329.4 L588.4 343.7 L595.5 357.0 L600.9 371.3 L602.7 378.4 L601.8 381.1 L597.3 380.2 L560.8 366.8 L559.9 362.4 L556.3 353.5 L545.6 342.8 L533.2 334.7 L528.7 329.4 Z" fill="none" stroke="#000" stroke-width="2.16"/>
<path d="M531.4 318.7 C533.8 319.0 540.9 318.6 545.6 320.5 C550.4 322.4 555.7 326.6 559.9 330.3 C564.0 334.0 567.6 338.9 570.6 342.8 C573.5 346.6 576.5 351.7 577.7 353.5" fill="none" stroke="#000" stroke-width="1.56"/>
<path d="M534.1 321.7 C536.0 322.1 541.6 322.1 545.6 324.1 C549.6 326.0 554.4 329.8 558.1 333.3 C561.8 336.8 565.2 341.5 567.9 344.9 C570.6 348.3 573.4 352.3 574.5 353.8" fill="none" stroke="#000" stroke-width="1.20"/>
<path d="M533.2 334.7 L536.7 324.9 L531.4 318.7" fill="none" stroke="#000" stroke-width="1.20"/>
<path d="M536.7 334.7 L554.5 342.8 L568.8 351.7" fill="none" stroke="#000" stroke-width="1.20"/>
<path d="M577.7 353.5 L592.0 351.7" fill="none" stroke="#000" stroke-width="1.20"/>
<path d="M567.0 333.9 L573.3 327.6" fill="none" stroke="#000" stroke-width="1.20"/>
<path d="M572.4 336.5 L578.6 330.6" fill="none" stroke="#000" stroke-width="1.20"/>
<path d="M555.4 350.8 L595.5 365.0" fill="none" stroke="#000" stroke-width="1.44"/>
<path d="M560.8 362.4 L600.9 375.2" fill="none" stroke="#000" stroke-width="1.92"/>
<path d="M563.5 366.3 L599.1 378.8" fill="none" stroke="#000" stroke-width="1.20"/>
<path d="M557.8 352.0 L561.7 353.5 L563.8 360.6 L559.9 359.2 Z" fill="#222" stroke="#000" stroke-width="0.96"/>
<path d="M559.2 353.8 L560.6 354.3 L562.2 359.2 L560.8 358.6 Z" fill="#fff" stroke="#000" stroke-width="0.36"/>
<path d="M565.2 354.7 L569.2 356.1 L571.3 363.3 L567.4 361.8 Z" fill="#222" stroke="#000" stroke-width="0.96"/>
<path d="M566.7 356.5 L568.1 357.0 L569.7 361.8 L568.3 361.3 Z" fill="#fff" stroke="#000" stroke-width="0.36"/>
<path d="M572.7 357.4 L576.6 358.8 L578.8 365.9 L574.9 364.5 Z" fill="#222" stroke="#000" stroke-width="0.96"/>
<path d="M574.1 359.2 L575.6 359.7 L577.2 364.5 L575.7 364.0 Z" fill="#fff" stroke="#000" stroke-width="0.36"/>
<path d="M580.2 360.0 L584.1 361.5 L586.3 368.6 L582.3 367.2 Z" fill="#222" stroke="#000" stroke-width="0.96"/>
<path d="M581.6 361.8 L583.1 362.4 L584.7 367.2 L583.2 366.6 Z" fill="#fff" stroke="#000" stroke-width="0.36"/>
<path d="M587.7 362.7 L591.6 364.1 L593.7 371.3 L589.8 369.8 Z" fill="#222" stroke="#000" stroke-width="0.96"/>
<path d="M589.1 364.5 L590.5 365.0 L592.1 369.8 L590.7 369.3 Z" fill="#fff" stroke="#000" stroke-width="0.36"/>
<path d="M584.8 353.5 L592.0 353.5 L591.1 358.8 L586.6 357.9 Z" fill="#222" stroke="#000" stroke-width="0.72"/>
<path d="M560.8 362.7 L566.7 364.5 L566.7 368.6 L561.1 366.8 Z" fill="#222" stroke="#000" stroke-width="0.72"/>
<path d="M593.7 374.5 L601.2 376.6 L601.6 380.5 L594.5 378.4 Z" fill="#222" stroke="#000" stroke-width="0.72"/>
<ellipse cx="551.0" cy="312.8" rx="1.1" ry="1.1" fill="#111" stroke="#000" stroke-width="0.5"/>
<ellipse cx="528.7" cy="316.4" rx="1.1" ry="1.4" fill="#111" stroke="#000" stroke-width="0.5"/>
<text transform="translate(543.6 289.2) scale(0.63 1)" font-size="15.3">4</text>
<path d="M546.9 290.0 L546.9 309.5" fill="none" stroke="#000" stroke-width="0.9"/>
<text transform="translate(589.0 308.0) scale(0.63 1)" font-size="15.3">17</text>
<path d="M593.2 308.5 L593.2 324.0" fill="none" stroke="#000" stroke-width="0.9"/>
<path d="M587.3 318.8 L597.3 327.7" fill="none" stroke="#000" stroke-width="2.52"/>
<text transform="translate(605.0 315.0) scale(0.63 1)" font-size="15.3">17</text>
<path d="M608.9 315.5 L608.9 328.0" fill="none" stroke="#000" stroke-width="0.9"/>
<path d="M603.2 327.0 L613.2 335.9" fill="none" stroke="#000" stroke-width="2.52"/>
<text transform="translate(615.7 352.5) scale(0.63 1)" font-size="15.3">10</text>
<path d="M604.0 346.6 L615.0 346.6" fill="none" stroke="#000" stroke-width="0.9"/>
<ellipse cx="601.0" cy="346.8" rx="2.6" ry="2.4" fill="#111" stroke="#000" stroke-width="0.5"/>
<text transform="translate(628.2 372.2) scale(0.63 1)" font-size="15.3">10</text>
<path d="M616.0 365.7 L627.0 365.7" fill="none" stroke="#000" stroke-width="0.9"/>
<ellipse cx="612.6" cy="366.0" rx="2.6" ry="2.4" fill="#111" stroke="#000" stroke-width="0.5"/>
<path d="M598.5 348.0 L594.0 350.5" fill="none" stroke="#000" stroke-width="0.8"/>
<path d="M610.0 367.5 L603.0 372.0" fill="none" stroke="#000" stroke-width="0.8"/>
<text transform="translate(659.4 293.6) scale(0.63 1)" font-size="15.3">22</text>
<path d="M646.5 291.5 L658.5 290.0" fill="none" stroke="#000" stroke-width="0.9"/>
<path d="M630.3 281.0 C630.6 280.3 632.6 281.3 634.7 281.9 C636.8 282.5 640.8 283.0 642.7 284.6 C644.7 286.2 646.2 289.9 646.3 291.7 C646.5 293.5 645.1 295.3 643.6 295.3 C642.1 295.3 639.2 293.2 637.4 291.7 C635.6 290.2 634.1 288.2 632.9 286.4 C631.8 284.6 630.0 281.8 630.3 281.0 Z" fill="none" stroke="#000" stroke-width="1.44"/>
<path d="M631.2 281.9 C631.8 283.0 632.6 286.0 634.7 288.2 C636.8 290.3 642.1 293.8 643.6 294.9" fill="none" stroke="#000" stroke-width="1.08"/>
<path d="M643.6 295.3 L647.2 303.3" fill="none" stroke="#000" stroke-width="1.08"/>
<ellipse cx="647.6" cy="304.6" rx="1.2" ry="1.2" fill="#111" stroke="#000" stroke-width="0.5"/>
<path d="M580.0 575.3 L585.1 560.3 L595.1 544.0 L610.1 534.0 L635.2 517.7 L672.8 495.6 L707.8 473.8 L720.4 465.1 L730.4 467.6 L760.4 505.2 L761.7 508.9 L755.4 520.2 L745.4 525.2 L735.4 529.0 L700.3 540.2 L655.2 560.3 L612.6 580.3 L605.1 580.3 L600.1 575.3 L590.1 574.1 Z" fill="none" stroke="#000" stroke-width="1.92"/>
<path d="M587.6 573.3 L592.6 557.8 L601.3 546.5 L635.2 522.7 L675.3 500.2 L710.3 477.6 L722.9 470.1 L727.9 471.3 L755.4 505.2 L757.9 510.7" fill="none" stroke="#000" stroke-width="1.20"/>
<path d="M588.8 574.1 C589.9 571.8 592.4 563.8 595.1 560.3 C597.8 556.7 602.2 553.6 605.1 552.8 C608.0 551.9 610.7 553.2 612.6 555.3 C614.5 557.4 616.4 562.0 616.4 565.3 C616.4 568.6 613.2 573.7 612.6 575.3" fill="none" stroke="#000" stroke-width="1.56"/>
<path d="M592.6 574.1 C593.6 572.0 596.5 564.5 598.8 561.5 C601.1 558.6 604.3 556.9 606.4 556.5 C608.4 556.1 610.5 558.6 611.4 559.0" fill="none" stroke="#000" stroke-width="0.96"/>
<path d="M616.4 539.0 L625.6 535.2 L635.2 550.3 L621.4 556.5 Z" fill="none" stroke="#000" stroke-width="1.56"/>
<path d="M625.6 535.2 L627.7 545.8 L621.4 556.5" fill="none" stroke="#000" stroke-width="1.08"/>
<path d="M666.5 512.7 L676.5 509.7 L685.3 525.2 L671.5 530.2 Z" fill="none" stroke="#000" stroke-width="1.56"/>
<path d="M676.5 509.7 L678.5 520.2 L671.5 530.2" fill="none" stroke="#000" stroke-width="1.08"/>
<path d="M724.1 482.6 L732.9 478.9 L744.2 496.4 L734.1 502.7 Z" fill="none" stroke="#000" stroke-width="1.56"/>
<path d="M732.9 478.9 L734.9 489.4 L734.1 502.7" fill="none" stroke="#000" stroke-width="1.08"/>
<path d="M612.6 575.3 L660.2 550.3 L692.8 530.2 L710.3 527.7 L745.4 517.7" fill="none" stroke="#000" stroke-width="1.44"/>
<path d="M617.6 566.6 C624.1 562.4 648.5 544.6 656.5 541.5 C664.4 538.4 663.8 546.7 665.2 547.8" fill="none" stroke="#000" stroke-width="1.32"/>
<path d="M656.5 541.5 L692.8 524.0 L700.3 525.2 L707.8 530.2" fill="none" stroke="#000" stroke-width="1.32"/>
<path d="M692.8 524.0 L735.4 505.2 L745.4 517.7" fill="none" stroke="#000" stroke-width="1.32"/>
<path d="M610.1 577.1 L747.9 519.4" fill="none" stroke="#000" stroke-width="1.20"/>
<path d="M611.3 574.3 L745.0 515.5" fill="none" stroke="#000" stroke-width="1.92"/>
<path d="M712.8 537.7 L716.6 542.2 L732.9 535.2 L735.4 529.7" fill="none" stroke="#000" stroke-width="1.32"/>
<path d="M735.4 529.7 L745.4 523.2 L744.2 527.2 L736.6 532.7 Z" fill="#222" stroke="#000" stroke-width="0.96"/>
<ellipse cx="611.4" cy="533.2" rx="1.3" ry="1.3" fill="#111" stroke="#000" stroke-width="0.5"/>
<ellipse cx="635.9" cy="518.2" rx="1.3" ry="1.3" fill="#111" stroke="#000" stroke-width="0.5"/>
<ellipse cx="672.5" cy="496.4" rx="1.3" ry="1.3" fill="#111" stroke="#000" stroke-width="0.5"/>
<ellipse cx="708.3" cy="475.1" rx="1.3" ry="1.3" fill="#111" stroke="#000" stroke-width="0.5"/>
<ellipse cx="592.6" cy="550.3" rx="1.3" ry="1.3" fill="#111" stroke="#000" stroke-width="0.5"/>
<ellipse cx="585.1" cy="571.6" rx="1.3" ry="1.3" fill="#111" stroke="#000" stroke-width="0.5"/>
<text transform="translate(654.5 589.2) scale(0.63 1)" font-size="15.3">5</text>
<path d="M655.2 564.0 L655.2 574.0" fill="none" stroke="#000" stroke-width="0.9"/>
<text transform="translate(750.5 565.2) scale(0.63 1)" font-size="15.3">19</text>
<path d="M754.2 543.0 L754.2 553.5" fill="none" stroke="#000" stroke-width="0.9"/>
<path d="M750.5 538.5 l6 2.5" stroke="#111" stroke-width="3.4" stroke-linecap="round"/>
<path d="M735.5 532.5 L750.0 538.5" fill="none" stroke="#000" stroke-width="0.8"/>
<text transform="translate(608.1 473.2) scale(0.63 1)" font-size="15.3">16</text>
<path d="M611.9 473.7 L611.9 484.6" fill="none" stroke="#000" stroke-width="0.9"/>
<g><rect x="607.8" y="484.6" width="8.2" height="21.6" fill="none" stroke="#222" stroke-width="0.9" stroke-dasharray="3 1.4"/><path d="M609.6 485.4 h4.6 v3 h-0.6 v4 h-3.4 v-4 h-0.6 Z" fill="#111"/><path d="M611.9 492.6 v5" stroke="#111" stroke-width="0.8"/><path d="M608.8 497.8 h6.2 v3.2 h-1 v4 h-4.2 v-4 h-1 Z" fill="#111"/><rect x="611.2" y="501.9" width="1.4" height="2.6" fill="#bbb"/></g>
<path d="M611.9 506.2 L611.9 533.0" fill="none" stroke="#000" stroke-width="0.9"/>
<text transform="translate(633.1 473.2) scale(0.63 1)" font-size="15.3">16</text>
<path d="M636.4 473.7 L636.4 484.6" fill="none" stroke="#000" stroke-width="0.9"/>
<g><rect x="632.3" y="484.6" width="8.2" height="21.6" fill="none" stroke="#222" stroke-width="0.9" stroke-dasharray="3 1.4"/><path d="M634.1 485.4 h4.6 v3 h-0.6 v4 h-3.4 v-4 h-0.6 Z" fill="#111"/><path d="M636.4 492.6 v5" stroke="#111" stroke-width="0.8"/><path d="M633.3 497.8 h6.2 v3.2 h-1 v4 h-4.2 v-4 h-1 Z" fill="#111"/><rect x="635.7" y="501.9" width="1.4" height="2.6" fill="#bbb"/></g>
<path d="M636.4 506.2 L636.4 517.5" fill="none" stroke="#000" stroke-width="0.9"/>
<text transform="translate(669.4 452.0) scale(0.63 1)" font-size="15.3">16</text>
<path d="M672.5 452.5 L672.5 462.6" fill="none" stroke="#000" stroke-width="0.9"/>
<g><rect x="668.4" y="462.6" width="8.2" height="21.6" fill="none" stroke="#222" stroke-width="0.9" stroke-dasharray="3 1.4"/><path d="M670.2 463.4 h4.6 v3 h-0.6 v4 h-3.4 v-4 h-0.6 Z" fill="#111"/><path d="M672.5 470.6 v5" stroke="#111" stroke-width="0.8"/><path d="M669.4 475.8 h6.2 v3.2 h-1 v4 h-4.2 v-4 h-1 Z" fill="#111"/><rect x="671.8" y="479.9" width="1.4" height="2.6" fill="#bbb"/></g>
<path d="M672.5 484.2 L672.5 496.0" fill="none" stroke="#000" stroke-width="0.9"/>
<text transform="translate(705.1 425.7) scale(0.63 1)" font-size="15.3">16</text>
<path d="M708.3 426.2 L708.3 436.4" fill="none" stroke="#000" stroke-width="0.9"/>
<g><rect x="704.2" y="436.4" width="8.2" height="21.6" fill="none" stroke="#222" stroke-width="0.9" stroke-dasharray="3 1.4"/><path d="M706.0 437.2 h4.6 v3 h-0.6 v4 h-3.4 v-4 h-0.6 Z" fill="#111"/><path d="M708.3 444.4 v5" stroke="#111" stroke-width="0.8"/><path d="M705.2 449.6 h6.2 v3.2 h-1 v4 h-4.2 v-4 h-1 Z" fill="#111"/><rect x="707.6" y="453.7" width="1.4" height="2.6" fill="#bbb"/></g>
<path d="M708.3 458.0 L708.3 475.0" fill="none" stroke="#000" stroke-width="0.9"/>
<text transform="translate(730.1 424.6) scale(0.63 1)" font-size="15.3">16</text>
<path d="M733.6 425.1 L733.6 435.2" fill="none" stroke="#000" stroke-width="0.9"/>
<g><rect x="729.5" y="435.2" width="8.2" height="21.6" fill="none" stroke="#222" stroke-width="0.9" stroke-dasharray="3 1.4"/><path d="M731.3 436.0 h4.6 v3 h-0.6 v4 h-3.4 v-4 h-0.6 Z" fill="#111"/><path d="M733.6 443.2 v5" stroke="#111" stroke-width="0.8"/><path d="M730.5 448.4 h6.2 v3.2 h-1 v4 h-4.2 v-4 h-1 Z" fill="#111"/><rect x="732.9" y="452.5" width="1.4" height="2.6" fill="#bbb"/></g>
<path d="M733.6 456.8 L733.6 470.0" fill="none" stroke="#000" stroke-width="0.9"/>
<text transform="translate(567.8 525.8) scale(0.63 1)" font-size="15.3">16</text>
<path d="M571.5 526.3 L571.5 536.8" fill="none" stroke="#000" stroke-width="0.9"/>
<g transform="rotate(-70 570.3 541.8)"><rect x="566.2" y="531.0" width="8.2" height="21.6" fill="none" stroke="#222" stroke-width="0.9" stroke-dasharray="3 1.4"/><path d="M568.0 531.8 h4.6 v3 h-0.6 v4 h-3.4 v-4 h-0.6 Z" fill="#111"/><path d="M570.3 539.0 v5" stroke="#111" stroke-width="0.8"/><path d="M567.2 544.2 h6.2 v3.2 h-1 v4 h-4.2 v-4 h-1 Z" fill="#111"/><rect x="569.6" y="548.3" width="1.4" height="2.6" fill="#bbb"/></g>
<path d="M581.0 546.0 L590.5 549.5" fill="none" stroke="#000" stroke-width="0.8"/>
<g transform="rotate(-70 564.3 561.5)"><rect x="560.2" y="550.7" width="8.2" height="21.6" fill="none" stroke="#222" stroke-width="0.9" stroke-dasharray="3 1.4"/><path d="M562.0 551.5 h4.6 v3 h-0.6 v4 h-3.4 v-4 h-0.6 Z" fill="#111"/><path d="M564.3 558.7 v5" stroke="#111" stroke-width="0.8"/><path d="M561.2 563.9 h6.2 v3.2 h-1 v4 h-4.2 v-4 h-1 Z" fill="#111"/><rect x="563.6" y="568.0" width="1.4" height="2.6" fill="#bbb"/></g>
<path d="M575.0 565.5 L584.0 569.0" fill="none" stroke="#000" stroke-width="0.8"/>
<text transform="translate(559.6 588.0) scale(0.63 1)" font-size="15.3">16</text>
<path d="M563.2 566.0 L563.2 578.0" fill="none" stroke="#000" stroke-width="0.9"/>
<path d="M431.7 539.8 L455.1 528.4 L461.2 530.4 L471.9 529.1 L482.6 531.1 L489.3 536.4 L490.6 541.8 L489.3 548.5 L496.0 554.5 L504.0 559.2 L526.8 553.2 L532.1 555.2 L536.2 565.9 L541.5 568.6 L542.9 572.6 L538.8 574.6 L534.8 568.6 L530.8 561.9 L526.8 561.2 L510.7 577.9 L505.4 578.6 L482.6 568.6 L469.2 560.5 L459.8 555.2 L455.8 549.8 L445.1 540.4 Z" fill="#fff" stroke="#000" stroke-width="2.04"/>
<path d="M435.7 539.1 L455.8 530.4" fill="none" stroke="#000" stroke-width="1.20"/>
<path d="M445.1 540.4 L455.1 535.1 L461.2 530.8" fill="none" stroke="#000" stroke-width="1.20"/>
<path d="M449.1 540.4 L461.2 530.8 L465.2 541.8 L460.1 554.1 L455.8 550.1 Z" fill="#222" stroke="#000" stroke-width="1.20"/>
<path d="M461.2 530.8 L471.9 529.1 L482.6 531.1 L489.3 536.4 L490.6 541.8 L489.0 549.2 L465.2 541.8 Z" fill="#1a1a1a" stroke="#000" stroke-width="1.20"/>
<path d="M465.2 539.5 L470.9 534.0" fill="none" stroke="#fff" stroke-width="2.04"/>
<path d="M471.2 541.2 L476.6 535.4" fill="none" stroke="#fff" stroke-width="2.04"/>
<path d="M476.6 543.1 L481.9 537.2" fill="none" stroke="#fff" stroke-width="2.04"/>
<path d="M481.2 545.3 L485.9 539.9" fill="none" stroke="#fff" stroke-width="2.04"/>
<path d="M485.5 547.1 L488.7 542.7" fill="none" stroke="#fff" stroke-width="2.04"/>
<path d="M451.8 541.1 L460.1 533.7" fill="none" stroke="#ddd" stroke-width="0.72"/>
<path d="M455.1 545.1 L462.5 536.4" fill="none" stroke="#ddd" stroke-width="0.72"/>
<path d="M457.8 550.1 L463.8 540.4" fill="none" stroke="#ddd" stroke-width="0.72"/>
<path d="M452.5 543.8 L458.5 549.2" fill="none" stroke="#ddd" stroke-width="0.72"/>
<path d="M455.8 538.4 L461.8 546.5" fill="none" stroke="#ddd" stroke-width="0.72"/>
<path d="M489.3 548.5 L496.0 554.5 L504.0 559.2 L505.6 563.9 L508.3 575.5 L505.4 578.6 L494.6 573.9 L492.6 567.9 L498.0 562.1 Z" fill="#1a1a1a" stroke="#000" stroke-width="1.20"/>
<path d="M500.0 563.9 L503.3 562.5 L504.0 566.6 L500.7 567.5 Z" fill="#fff" stroke="#000" stroke-width="0.36"/>
<path d="M494.6 569.2 L498.0 567.9 L498.9 571.2 L496.0 572.3 Z" fill="#fff" stroke="#000" stroke-width="0.36"/>
<path d="M502.0 570.6 L505.1 569.6 L505.6 573.4 L502.9 574.2 Z" fill="#fff" stroke="#000" stroke-width="0.36"/>
<path d="M456.5 550.1 C457.1 550.8 457.7 553.0 460.1 554.1 C462.4 555.2 468.2 555.6 470.5 556.8 C472.8 558.0 469.9 559.0 473.9 561.2 C477.9 563.4 489.4 567.8 494.6 570.2 C499.9 572.5 503.6 574.4 505.4 575.3" fill="none" stroke="#000" stroke-width="3.12"/>
<path d="M465.2 541.8 L460.1 554.1" fill="none" stroke="#000" stroke-width="2.64"/>
<path d="M474.6 546.9 L470.3 555.4" fill="none" stroke="#000" stroke-width="1.56"/>
<path d="M457.1 553.2 L456.1 559.2" fill="none" stroke="#000" stroke-width="2.64"/>
<path d="M489.0 549.2 L498.0 562.1" fill="none" stroke="#000" stroke-width="2.88"/>
<path d="M460.1 555.2 L465.2 559.9 L469.2 558.5" fill="none" stroke="#000" stroke-width="1.20"/>
<path d="M505.4 560.3 L526.8 554.1" fill="none" stroke="#000" stroke-width="1.92"/>
<path d="M506.3 565.6 L528.4 558.7" fill="none" stroke="#000" stroke-width="2.16"/>
<path d="M507.8 571.5 L525.7 562.7" fill="none" stroke="#000" stroke-width="2.16"/>
<path d="M510.7 577.4 L527.9 562.1" fill="none" stroke="#000" stroke-width="1.92"/>
<path d="M526.8 561.2 C527.5 561.4 529.7 560.9 531.1 562.1 C532.5 563.4 533.7 566.9 535.1 568.8 C536.4 570.8 538.4 573.1 539.1 573.9" fill="none" stroke="#000" stroke-width="1.56"/>
<text transform="translate(474.0 513.0) scale(0.63 1)" font-size="15.3">14</text>
<path d="M477.9 514.0 L477.9 520.0" fill="none" stroke="#000" stroke-width="0.9"/>
<path d="M475.5 520.5 l5 -0.5 l2.5 5 l-3.5 2 l-4 -2.5 Z" fill="#111"/>
<text transform="translate(403.6 546.8) scale(0.63 1)" font-size="15.3">7</text>
<path d="M411.0 540.4 L432.0 540.4" fill="none" stroke="#000" stroke-width="0.9"/>
<text transform="translate(421.4 562.8) scale(0.63 1)" font-size="15.3">13</text>
<path d="M433.0 556.5 L436.5 556.5" fill="none" stroke="#000" stroke-width="0.9"/>
<path d="M437.0 556.8 l1 -4.2 h1.4 l1 4.2 q0.4 1.8 -1.7 1.8 q-2.1 0 -1.7 -1.8 Z" fill="#111" stroke="#111" stroke-width="0.6"/>
<text transform="translate(438.4 579.7) scale(0.63 1)" font-size="15.3">13</text>
<path d="M444.9 568 V561 H454" fill="none" stroke="#000" stroke-width="0.9"/>
<path d="M454.4 561.3 l1 -4.2 h1.4 l1 4.2 q0.4 1.8 -1.7 1.8 q-2.1 0 -1.7 -1.8 Z" fill="#111" stroke="#111" stroke-width="0.6"/>
<text transform="translate(448.2 595.8) scale(0.63 1)" font-size="15.3">15</text>
<path d="M451.7 573.5 L451.7 585.0" fill="none" stroke="#000" stroke-width="0.9"/>
<ellipse cx="454.7" cy="568.9" rx="4.5" ry="4.5" fill="#000" stroke="#000" stroke-width="0.5"/>
<text transform="translate(471.3 589.5) scale(0.63 1)" font-size="15.3">13</text>
<path d="M464.5 576 V584 H470.7" fill="none" stroke="#000" stroke-width="0.9"/>
<path d="M462.8 575.3 l1 -4.2 h1.4 l1 4.2 q0.4 1.8 -1.7 1.8 q-2.1 0 -1.7 -1.8 Z" fill="#111" stroke="#111" stroke-width="0.6"/>
<text transform="translate(482.9 608.2) scale(0.63 1)" font-size="15.3">15</text>
<path d="M486.8 585.0 L486.8 597.5" fill="none" stroke="#000" stroke-width="0.9"/>
<ellipse cx="487.6" cy="580.5" rx="4.5" ry="4.5" fill="#000" stroke="#000" stroke-width="0.5"/>
<text transform="translate(499.8 608.2) scale(0.63 1)" font-size="15.3">13</text>
<path d="M505.5 587.5 L505.5 597.5" fill="none" stroke="#000" stroke-width="0.9"/>
<path d="M503.8 586.3 l1 -4.2 h1.4 l1 4.2 q0.4 1.8 -1.7 1.8 q-2.1 0 -1.7 -1.8 Z" fill="#111" stroke="#111" stroke-width="0.6"/>
<text transform="translate(523.0 601.2) scale(0.63 1)" font-size="15.3">13</text>
<path d="M528.6 580.5 L528.6 590.5" fill="none" stroke="#000" stroke-width="0.9"/>
<path d="M526.9 579.3 l1 -4.2 h1.4 l1 4.2 q0.4 1.8 -1.7 1.8 q-2.1 0 -1.7 -1.8 Z" fill="#111" stroke="#111" stroke-width="0.6"/>
<text transform="translate(546.1 601.2) scale(0.63 1)" font-size="15.3">13</text>
<path d="M538.4 585.5 V595.5 H545.5" fill="none" stroke="#000" stroke-width="0.9"/>
<path d="M536.7 584.6 l1 -4.2 h1.4 l1 4.2 q0.4 1.8 -1.7 1.8 q-2.1 0 -1.7 -1.8 Z" fill="#111" stroke="#111" stroke-width="0.6"/>
<path d="M457.0 565.5 L462.0 562.0" fill="none" stroke="#000" stroke-width="0.8"/>
<path d="M490.0 577.0 L494.0 573.0" fill="none" stroke="#000" stroke-width="0.8"/>
<path d="M528.7 203.5 C529.5 202.4 530.6 199.1 533.2 197.2 C535.7 195.4 540.6 193.0 543.9 192.4 C547.1 191.8 549.8 192.4 552.8 193.7 C555.7 194.9 559.9 198.2 561.7 199.9 C563.5 201.6 563.2 203.2 563.5 203.8" fill="none" stroke="#000" stroke-width="1.56"/>
<path d="M528.7 203.5 C530.0 204.2 533.0 207.1 536.7 207.9 C540.4 208.7 546.5 209.1 551.0 208.4 C555.4 207.8 561.4 204.7 563.5 204.0" fill="none" stroke="#000" stroke-width="1.92"/>
<path d="M528.7 203.5 C528.8 204.8 527.9 209.4 529.2 211.5 C530.6 213.5 533.1 215.0 536.7 215.9 C540.3 216.8 546.7 217.5 551.0 217.0 C555.3 216.5 560.5 214.9 562.6 212.7 C564.6 210.5 563.3 205.4 563.5 204.0" fill="none" stroke="#000" stroke-width="1.92"/>
<path d="M525.1 208.8 L528.7 213.4" fill="none" stroke="#000" stroke-width="2.16"/>
<path d="M543.9 192.8 L544.7 182.1 L547.4 181.2 L548.3 192.8" fill="none" stroke="#000" stroke-width="1.56"/>
<path d="M542.1 176.7 L546.9 180.6" fill="none" stroke="#000" stroke-width="1.92"/>
<path d="M538.5 187.4 L543.3 193.1" fill="none" stroke="#000" stroke-width="2.16"/>
<ellipse cx="546.2" cy="192.8" rx="2.5" ry="0.9" fill="#111" stroke="#000" stroke-width="0.5"/>
<text transform="translate(578.3 209.8) scale(0.63 1)" font-size="15.3">20</text>
<path d="M563.5 202.6 L574.0 202.6" fill="none" stroke="#000" stroke-width="0.9"/>
<path d="M605.3 166.4 L611.6 166.4 L611.6 201.7 L597.3 242.7 L591.6 240.5 L605.3 201.7 Z" fill="none" stroke="#000" stroke-width="1.68"/>
<text transform="translate(626.4 208.5) scale(0.63 1)" font-size="15.3">21</text>
<path d="M611.6 201.7 L622.0 201.7" fill="none" stroke="#000" stroke-width="0.9"/>
<path d="M51.7 587.4 L67.3 567.2 L69.8 568.7 L71.3 572.5 L72.3 569.7 L91.0 560.2 L94.5 561.7 L96.5 574.3 L74.4 587.4 L73.9 591.4 L55.7 589.4 Z" fill="none" stroke="#000" stroke-width="1.08"/>
<path d="M55.7 589.4 L69.8 570.2 L71.5 574.8" fill="none" stroke="#000" stroke-width="0.96"/>
<path d="M69.8 570.2 L69.8 568.7" fill="none" stroke="#000" stroke-width="0.84"/>
<path d="M70.5 575.5 L94.5 562.7" fill="none" stroke="#000" stroke-width="0.96"/>
<path d="M71.5 574.8 L72.1 586.9 L74.4 587.4" fill="none" stroke="#000" stroke-width="0.96"/>
<path d="M72.3 569.7 L71.5 574.8" fill="none" stroke="#000" stroke-width="0.84"/>
<text transform="translate(71.5 586) rotate(-27) skewX(-12) scale(0.8 1)" font-size="13.5" style="font-family:'Liberation Serif',serif;font-weight:bold;font-style:italic">FWD</text>
<text transform="translate(331.0 225.2) scale(0.63 1)" font-size="15.3">13</text>
<path d="M338.8 225.5 L338.8 242.6" fill="none" stroke="#000" stroke-width="0.9"/>
<path d="M337.1 244.2 q-0.4 -1.8 1.7 -1.8 q2.1 0 1.7 1.8 l-1 4.2 h-1.4 Z" fill="#111" stroke="#111" stroke-width="0.6"/>
<path d="M341.5 222.5 L367.6 222.5" fill="none" stroke="#000" stroke-width="0.9"/>
<path d="M365.9 225.1 q-0.4 -1.8 1.7 -1.8 q2.1 0 1.7 1.8 l-1 4.2 h-1.4 Z" fill="#111" stroke="#111" stroke-width="0.6"/>
<text transform="translate(366.1 274.7) scale(0.63 1)" font-size="15.3">13</text>
<path d="M368.1 275.2 L368.1 279.0" fill="none" stroke="#000" stroke-width="0.9"/>
<path d="M366.4 280.6 q-0.4 -1.8 1.7 -1.8 q2.1 0 1.7 1.8 l-1 4.2 h-1.4 Z" fill="#111" stroke="#111" stroke-width="0.6"/>
<text transform="translate(408.8 216.5) scale(0.63 1)" font-size="15.3">13</text>
<path d="M412.0 217.0 L412.0 220.5" fill="none" stroke="#000" stroke-width="0.9"/>
<path d="M410.3 222.1 q-0.4 -1.8 1.7 -1.8 q2.1 0 1.7 1.8 l-1 4.2 h-1.4 Z" fill="#111" stroke="#111" stroke-width="0.6"/>
<text transform="translate(430.2 220.2) scale(0.63 1)" font-size="15.3">13</text>
<path d="M434.3 220.7 L434.3 245.0" fill="none" stroke="#000" stroke-width="0.9"/>
<path d="M432.6 246.6 q-0.4 -1.8 1.7 -1.8 q2.1 0 1.7 1.8 l-1 4.2 h-1.4 Z" fill="#111" stroke="#111" stroke-width="0.6"/>
<text transform="translate(439.8 203.2) scale(0.63 1)" font-size="15.3">13</text>
<path d="M444.6 203.7 L444.6 220.0" fill="none" stroke="#000" stroke-width="0.9"/>
<path d="M442.9 221.6 q-0.4 -1.8 1.7 -1.8 q2.1 0 1.7 1.8 l-1 4.2 h-1.4 Z" fill="#111" stroke="#111" stroke-width="0.6"/>
<text transform="translate(471.3 224.0) scale(0.63 1)" font-size="15.3">13</text>
<path d="M476.6 224.5 L476.6 241.5" fill="none" stroke="#000" stroke-width="0.9"/>
<path d="M474.9 243.1 q-0.4 -1.8 1.7 -1.8 q2.1 0 1.7 1.8 l-1 4.2 h-1.4 Z" fill="#111" stroke="#111" stroke-width="0.6"/>
<text transform="translate(485.1 227.2) scale(0.63 1)" font-size="15.3">13</text>
<path d="M490.9 227.7 L490.9 245.0" fill="none" stroke="#000" stroke-width="0.9"/>
<path d="M489.2 246.6 q-0.4 -1.8 1.7 -1.8 q2.1 0 1.7 1.8 l-1 4.2 h-1.4 Z" fill="#111" stroke="#111" stroke-width="0.6"/>
<text transform="translate(349.8 309.2) scale(0.63 1)" font-size="15.3">18</text>
<path d="M354.3 309.7 L354.3 314.0" fill="none" stroke="#000" stroke-width="0.9"/>
<path d="M352.6 315.6 q-0.4 -1.8 1.7 -1.8 q2.1 0 1.7 1.8 l-1 4.2 h-1.4 Z" fill="#111" stroke="#111" stroke-width="0.6"/>
<path d="M354.3 320.0 L354.3 333.0" fill="none" stroke="#000" stroke-width="0.8" stroke-dasharray="9 1.6 1.6 1.6"/>
<text transform="translate(610.2 404.2) scale(0.63 1)" font-size="15.3">18</text>
<path d="M613.8 404.7 L613.8 416.0" fill="none" stroke="#000" stroke-width="0.9"/>
<path d="M612.1 417.6 q-0.4 -1.8 1.7 -1.8 q2.1 0 1.7 1.8 l-1 4.2 h-1.4 Z" fill="#111" stroke="#111" stroke-width="0.6"/>
<path d="M613.8 422.0 L613.8 439.0" fill="none" stroke="#000" stroke-width="0.9"/>
<text transform="translate(355.2 480.4) scale(0.63 1)" font-size="15.3">1</text>
<path d="M355.7 449.0 L355.7 466.0" fill="none" stroke="#000" stroke-width="0.9"/>
<text transform="translate(379.2 423.4) scale(0.63 1)" font-size="15.3">13</text>
<path d="M385.4 402.5 L385.4 412.5" fill="none" stroke="#000" stroke-width="0.9"/>
<path d="M384.4 398.6 l3 -1.6 l-0.6 2.2 l-2.6 3 l0.2 -2.4 Z" fill="#111" stroke="#111" stroke-width="0.7"/>
<path d="M387.5 397.5 L394.5 391.5" fill="none" stroke="#000" stroke-width="0.8"/>
<text transform="translate(414.7 428.0) scale(0.63 1)" font-size="15.3">13</text>
<path d="M420.3 407.0 L420.3 417.0" fill="none" stroke="#000" stroke-width="0.9"/>
<path d="M419.3 403.0 l3 -1.6 l-0.6 2.2 l-2.6 3 l0.2 -2.4 Z" fill="#111" stroke="#111" stroke-width="0.7"/>
<path d="M422.5 402.0 L434.0 396.5" fill="none" stroke="#000" stroke-width="0.8"/>
<text transform="translate(441.5 429.8) scale(0.63 1)" font-size="15.3">13</text>
<path d="M445.3 409.5 L445.3 419.0" fill="none" stroke="#000" stroke-width="0.9"/>
<path d="M444.3 405.5 l3 -1.6 l-0.6 2.2 l-2.6 3 l0.2 -2.4 Z" fill="#111" stroke="#111" stroke-width="0.7"/>
<path d="M447.5 404.5 L452.0 401.0" fill="none" stroke="#000" stroke-width="0.8"/>
<rect x="464.1" y="439.6" width="13.8" height="14" fill="#fff"/>
<text transform="translate(465.6 451.8) scale(0.63 1)" font-size="15.3">13</text>
<path d="M468.5 429.5 L468.5 441.0" fill="none" stroke="#000" stroke-width="0.9"/>
<path d="M467.5 425.8 l3 -1.6 l-0.6 2.2 l-2.6 3 l0.2 -2.4 Z" fill="#111" stroke="#111" stroke-width="0.7"/>
<path d="M470.5 424.8 L482.0 419.5" fill="none" stroke="#000" stroke-width="0.8"/>
<rect x="491.7" y="431.6" width="13.8" height="14" fill="#fff"/>
<text transform="translate(493.2 443.8) scale(0.63 1)" font-size="15.3">14</text>
<path d="M497.9 444.5 L497.9 454.0" fill="none" stroke="#000" stroke-width="0.9"/>
<path d="M497.2 460.6 L497.2 471.0" fill="none" stroke="#000" stroke-width="0.9"/>
<path d="M490.8 455 l7.8 -0.8 l0.4 5.6 l-7.6 1 Z" fill="#111"/>
<path d="M338.8 250.0 L338.8 420.0" fill="none" stroke="#000" stroke-width="0.8" stroke-dasharray="9 1.6 1.6 1.6"/>
<path d="M368.1 286.0 L368.1 393.0" fill="none" stroke="#000" stroke-width="0.8" stroke-dasharray="9 1.6 1.6 1.6"/>
<path d="M395.2 177.0 L395.2 228.0" fill="none" stroke="#000" stroke-width="0.8" stroke-dasharray="9 1.6 1.6 1.6"/>
<path d="M395.2 300.0 L395.2 388.0" fill="none" stroke="#000" stroke-width="0.8" stroke-dasharray="9 1.6 1.6 1.6"/>
<path d="M412.0 310.0 L412.0 390.0" fill="none" stroke="#000" stroke-width="0.8" stroke-dasharray="9 1.6 1.6 1.6"/>
<path d="M434.3 252.0 L434.3 500.0" fill="none" stroke="#000" stroke-width="0.8" stroke-dasharray="9 1.6 1.6 1.6"/>
<path d="M438.7 400.0 L438.7 552.0" fill="none" stroke="#000" stroke-width="0.8" stroke-dasharray="9 1.6 1.6 1.6"/>
<path d="M444.6 227.0 L444.6 405.0" fill="none" stroke="#000" stroke-width="0.8" stroke-dasharray="9 1.6 1.6 1.6"/>
<path d="M455.8 405.0 L455.8 557.0" fill="none" stroke="#000" stroke-width="0.8" stroke-dasharray="9 1.6 1.6 1.6"/>
<path d="M464.3 411.0 L464.3 572.0" fill="none" stroke="#000" stroke-width="0.8" stroke-dasharray="9 1.6 1.6 1.6"/>
<path d="M476.6 248.0 L476.6 412.0" fill="none" stroke="#000" stroke-width="0.8" stroke-dasharray="9 1.6 1.6 1.6"/>
<path d="M490.9 252.0 L490.9 420.0" fill="none" stroke="#000" stroke-width="0.8" stroke-dasharray="9 1.6 1.6 1.6"/>
<path d="M505.5 464.0 L505.5 582.0" fill="none" stroke="#000" stroke-width="0.8" stroke-dasharray="9 1.6 1.6 1.6"/>
<path d="M528.6 466.0 L528.6 576.0" fill="none" stroke="#000" stroke-width="0.8" stroke-dasharray="9 1.6 1.6 1.6"/>
<path d="M538.4 460.0 L538.4 581.0" fill="none" stroke="#000" stroke-width="0.8" stroke-dasharray="9 1.6 1.6 1.6"/>
<path d="M489.3 131.0 L489.3 245.0" fill="none" stroke="#000" stroke-width="0.8" stroke-dasharray="9 1.6 1.6 1.6"/>
<path d="M527.7 317.6 L465.1 353.9" fill="none" stroke="#000" stroke-width="0.8" stroke-dasharray="9 1.6 1.6 1.6"/>
<path d="M532.8 336.4 L497.7 356.4" fill="none" stroke="#000" stroke-width="0.8" stroke-dasharray="9 1.6 1.6 1.6"/>
<path d="M643.0 307.6 L581.0 336.2" fill="none" stroke="#000" stroke-width="0.8" stroke-dasharray="9 1.6 1.6 1.6"/>
<path d="M538.0 356.0 L515.2 366.5" fill="none" stroke="#000" stroke-width="0.8" stroke-dasharray="9 1.6 1.6 1.6"/>
<path d="M600.4 329.0 L580.4 340.0" fill="none" stroke="#000" stroke-width="0.8"/>
<path d="M605.4 332.7 L585.4 344.0" fill="none" stroke="#000" stroke-width="0.8"/>
<path d="M562.8 366.5 L531.5 385.3" fill="none" stroke="#000" stroke-width="0.8" stroke-dasharray="9 1.6 1.6 1.6"/>
<path d="M565.3 369.0 L534.0 387.8" fill="none" stroke="#000" stroke-width="0.8" stroke-dasharray="9 1.6 1.6 1.6"/>
<path d="M600.4 376.5 L555.3 400.3" fill="none" stroke="#000" stroke-width="0.8" stroke-dasharray="9 1.6 1.6 1.6"/>
<path d="M268.0 310.0 L337.9 342.8" fill="none" stroke="#000" stroke-width="0.8" stroke-dasharray="9 1.6 1.6 1.6"/>
<path d="M248.0 321.4 L307.7 367.3" fill="none" stroke="#000" stroke-width="0.8" stroke-dasharray="9 1.6 1.6 1.6"/>
<path d="M220.3 346.3 L277.4 389.0" fill="none" stroke="#000" stroke-width="0.8" stroke-dasharray="9 1.6 1.6 1.6"/>
<path d="M576.0 426.7 L707.8 475.2" fill="none" stroke="#000" stroke-width="0.8" stroke-dasharray="9 1.6 1.6 1.6"/>
<path d="M540.4 446.8 L672.7 496.5" fill="none" stroke="#000" stroke-width="0.8" stroke-dasharray="9 1.6 1.6 1.6"/>
<path d="M504.3 467.7 L636.4 517.8" fill="none" stroke="#000" stroke-width="0.8" stroke-dasharray="9 1.6 1.6 1.6"/>
</svg>
</body></html>
